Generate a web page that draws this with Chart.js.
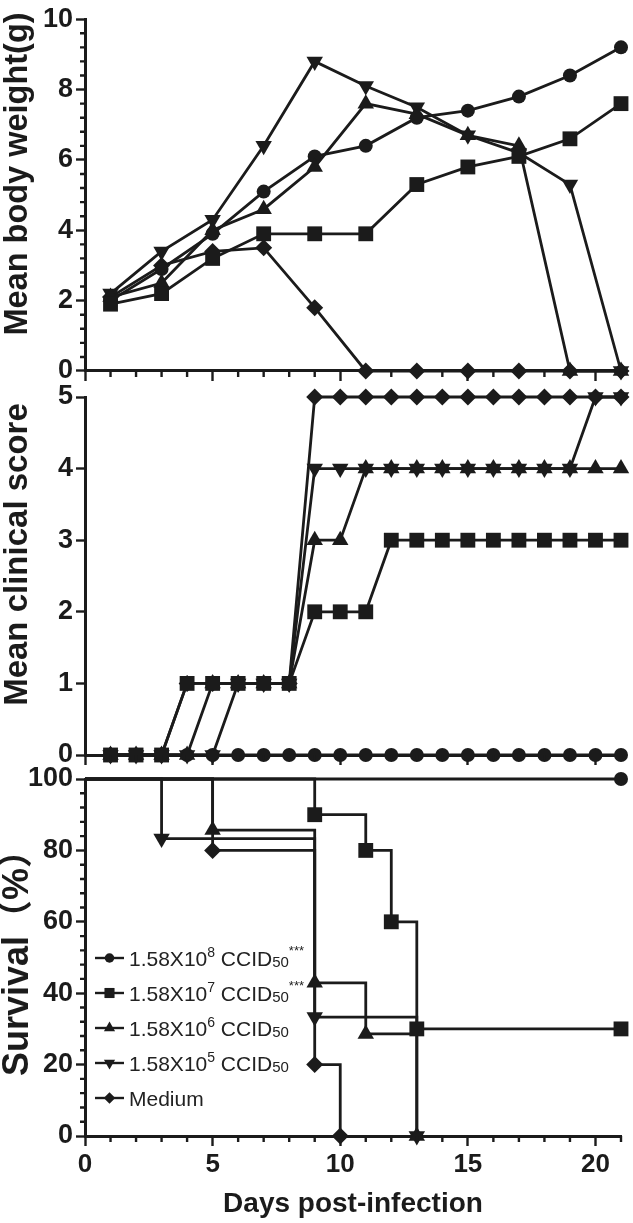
<!DOCTYPE html>
<html>
<head>
<meta charset="utf-8">
<script src="https://cdn.jsdelivr.net/npm/chart.js@4.4.1/dist/chart.umd.min.js"></script>
<style>
  html, body { margin: 0; padding: 0; background: #fff; }
  #wrap { position: relative; width: 633px; height: 1223px; }
  #wrap canvas { position: absolute; left: 0; top: 0; }
</style>
</head>
<body>
<div id="wrap">
  <canvas id="weightChart" width="633" height="1223"></canvas>
  <canvas id="scoreChart" width="633" height="1223"></canvas>
  <canvas id="survivalChart" width="633" height="1223"></canvas>
</div>
<script>
// --- data ---
const weightDays = [1, 3, 5, 7, 9, 11, 13, 15, 17, 19, 21];
const weightE8 = [2.0, 2.9, 3.9, 5.1, 6.1, 6.4, 7.2, 7.4, 7.8, 8.4, 9.2];
const weightE7 = [1.9, 2.2, 3.2, 3.9, 3.9, 3.9, 5.3, 5.8, 6.1, 6.6, 7.6];
const weightE6 = [2.1, 2.5, 4.0, 4.6, 5.8, 7.6, 7.3, 6.7, 6.4, 0, 0];
const weightE5 = [2.2, 3.4, 4.3, 6.4, 8.8, 8.1, 7.5, 6.7, 6.2, 5.3, 0];
const weightMedium = [2.1, 3.0, 3.4, 3.5, 1.8, 0, 0, 0, 0, 0, 0];

const scoreDays = [1, 2, 3, 4, 5, 6, 7, 8, 9, 10, 11, 12, 13, 14, 15, 16, 17, 18, 19, 20, 21];
const scoreE8 = [0, 0, 0, 0, 0, 0, 0, 0, 0, 0, 0, 0, 0, 0, 0, 0, 0, 0, 0, 0, 0];
const scoreE7 = [0, 0, 0, 1, 1, 1, 1, 1, 2, 2, 2, 3, 3, 3, 3, 3, 3, 3, 3, 3, 3];
const scoreE6 = [0, 0, 0, 0, 1, 1, 1, 1, 3, 3, 4, 4, 4, 4, 4, 4, 4, 4, 4, 4, 4];
const scoreE5 = [0, 0, 0, 0, 0, 1, 1, 1, 4, 4, 4, 4, 4, 4, 4, 4, 4, 4, 4, 5, 5];
const scoreMedium = [0, 0, 0, 1, 1, 1, 1, 1, 5, 5, 5, 5, 5, 5, 5, 5, 5, 5, 5, 5, 5];

const survDaysE8 = [0, 21];
const survE8 = [100, 100];
const survDaysE7 = [0, 9, 11, 12, 13, 21];
const survE7 = [100, 90, 80, 60, 30, 30];
const survDaysE6 = [0, 5, 9, 11, 13];
const survE6 = [100, 85.7, 42.9, 28.6, 0];
const survDaysE5 = [0, 3, 9, 13];
const survE5 = [100, 83.3, 33.3, 0];
const survDaysMedium = [0, 5, 9, 10];
const survMedium = [100, 80, 20, 0];

// legend text pieces: [text, kind]
const legendLabels = [
  [["1.58X10", "n"], ["8", "sup"], [" CCID", "n"], ["50", "sub"], ["***", "star"]],
  [["1.58X10", "n"], ["7", "sup"], [" CCID", "n"], ["50", "sub"], ["***", "star"]],
  [["1.58X10", "n"], ["6", "sup"], [" CCID", "n"], ["50", "sub"]],
  [["1.58X10", "n"], ["5", "sup"], [" CCID", "n"], ["50", "sub"]],
  [["Medium", "n"]],
];

const INK = "#1b1b1b";
const FONT = '"Liberation Sans", Arial, Helvetica, "Noto Sans CJK SC", sans-serif';

const markers = [
  { style: "circle", radius: 7, rotation: 0, order: 3 },
  { style: "rect", radius: 10.5, rotation: 0, order: 0 },
  { style: "triangle", radius: 9.5, rotation: 0, order: 1 },
  { style: "triangle", radius: 9.5, rotation: 180, order: 2 },
  { style: "rectRot", radius: 8.5, rotation: 0, order: 4 },
];

function toPoints(xs, ys) {
  return xs.map((x, i) => ({ x: x, y: ys[i] }));
}

function makeDataset(idx, xs, ys, stepped) {
  const m = markers[idx];
  return {
    data: toPoints(xs, ys),
    borderColor: INK,
    backgroundColor: INK,
    borderWidth: 2.8,
    tension: 0,
    stepped: stepped ? "before" : false,
    // survival curves start at 100% without a symbol
    pointRadius: stepped ? xs.map((x, i) => (i === 0 ? 0 : m.radius)) : m.radius,
    pointStyle: m.style,
    pointRotation: m.rotation,
    pointBackgroundColor: INK,
    pointBorderColor: INK,
    pointBorderWidth: 0,
    order: m.order,
    clip: false,
  };
}

// minor tick marks (Chart.js only draws one tick length)
const minorTicks = {
  id: "minorTicks",
  afterDraw(chart, args, opts) {
    const { ctx } = chart;
    const x = chart.scales.x;
    const y = chart.scales.y;
    ctx.save();
    ctx.strokeStyle = INK;
    ctx.lineWidth = 2.4;
    ctx.beginPath();
    const nx = Math.round((x.max - x.min) / opts.xStep);
    for (let i = 0; i <= nx; i++) {
      const v = x.min + i * opts.xStep;
      if (Math.abs(v / opts.xMajor - Math.round(v / opts.xMajor)) < 1e-6) continue;
      const px = x.getPixelForValue(v);
      ctx.moveTo(px, x.top);
      ctx.lineTo(px, x.top + opts.len);
    }
    if (opts.yStep) {
      const ny = Math.round((y.max - y.min) / opts.yStep);
      for (let i = 0; i <= ny; i++) {
        const v = y.min + i * opts.yStep;
        if (Math.abs(v / opts.yMajor - Math.round(v / opts.yMajor)) < 1e-6) continue;
        const py = y.getPixelForValue(v);
        ctx.moveTo(y.right, py);
        ctx.lineTo(y.right - opts.len + 1, py);
      }
    }
    ctx.stroke();
    ctx.restore();
  },
};

// rotated y title, centred on a value of the axis rather than the whole axis
const sideTitle = {
  id: "sideTitle",
  afterDraw(chart, args, opts) {
    const ctx = chart.ctx;
    const y = chart.scales.y;
    ctx.save();
    ctx.translate(opts.x, y.getPixelForValue(opts.at));
    ctx.rotate(-Math.PI / 2);
    ctx.font = "bold " + opts.size + "px " + FONT;
    ctx.fillStyle = INK;
    ctx.textAlign = "center";
    ctx.textBaseline = "alphabetic";
    ctx.fillText(opts.text, 0, 0);
    ctx.restore();
  },
};

const doseLegend = {
  id: "doseLegend",
  afterDatasetsDraw(chart, args, opts) {
    if (!opts.show) return;
    const ctx = chart.ctx;
    const fonts = {
      n: { size: 21, dy: 0 },
      sup: { size: 14, dy: -9 },
      sub: { size: 15, dy: 1 },
      star: { size: 13, dy: -11 },
    };
    ctx.save();
    legendLabels.forEach((parts, i) => {
      const y = opts.top + i * opts.gap;
      const m = markers[i];
      ctx.strokeStyle = INK;
      ctx.lineWidth = 2.4;
      ctx.beginPath();
      ctx.moveTo(opts.left, y);
      ctx.lineTo(opts.left + 29, y);
      ctx.stroke();
      ctx.fillStyle = INK;
      Chart.helpers.drawPoint(ctx, {
        pointStyle: m.style,
        radius: m.radius * 0.68,
        rotation: m.rotation,
        borderWidth: 0,
      }, opts.left + 14.5, y);
      let x = opts.left + 34;
      ctx.textBaseline = "alphabetic";
      ctx.textAlign = "left";
      parts.forEach(([text, kind]) => {
        const f = fonts[kind];
        ctx.font = f.size + "px " + FONT;
        ctx.fillStyle = "#222";
        ctx.fillText(text, x, y + 7.5 + f.dy);
        x += ctx.measureText(text).width;
      });
    });
    ctx.restore();
  },
};

function panelOptions(cfg) {
  return {
    responsive: false,
    animation: false,
    events: [],
    layout: {
      autoPadding: false,
      padding: { left: 0, right: 12, top: cfg.top, bottom: 0 },
    },
    plugins: {
      legend: { display: false },
      tooltip: { enabled: false },
      minorTicks: cfg.minor,
      sideTitle: cfg.title,
      doseLegend: { show: !!cfg.legend, left: 95, top: 958, gap: 35 },
    },
    scales: {
      x: {
        type: "linear",
        min: 0,
        max: 21,
        afterFit(s) { s.height = cfg.xHeight; },
        grid: { drawOnChartArea: false, drawTicks: true, tickLength: 10, tickWidth: 2.4, tickColor: INK },
        border: { display: true, width: 3, color: INK },
        ticks: {
          stepSize: 5,
          includeBounds: false,
          display: !!cfg.xLabels,
          color: INK,
          padding: 3,
          font: { family: FONT, size: 26, weight: "bold" },
        },
        title: {
          display: !!cfg.xLabels,
          text: "Days post-infection",
          color: INK,
          padding: { top: 0, bottom: 2 },
          font: { family: FONT, size: 28, weight: "bold" },
        },
      },
      y: {
        min: cfg.yMin,
        max: cfg.yMax,
        afterFit(s) { s.width = 85; },
        grid: { drawOnChartArea: false, drawTicks: true, tickLength: 9, tickWidth: 2.4, tickColor: INK },
        border: { display: true, width: 3, color: INK },
        ticks: {
          stepSize: cfg.yStep,
          color: INK,
          padding: 3,
          font: { family: FONT, size: 27, weight: "bold" },
        },
        title: { display: false },
      },
    },
  };
}

new Chart(document.getElementById("weightChart"), {
  type: "line",
  data: {
    datasets: [
      makeDataset(0, weightDays, weightE8),
      makeDataset(1, weightDays, weightE7),
      makeDataset(2, weightDays, weightE6),
      makeDataset(3, weightDays, weightE5),
      makeDataset(4, weightDays, weightMedium),
    ],
  },
  options: panelOptions({
    top: 14, xHeight: 1223 - 371, yMin: 0, yMax: 10, yStep: 2,
    title: { text: "Mean body weight(g)", at: 5.6, x: 27, size: 32.5 },
    minor: { xStep: 1, xMajor: 5, yStep: 0.4, yMajor: 2, len: 6 },
  }),
  plugins: [minorTicks, sideTitle, doseLegend],
});

new Chart(document.getElementById("scoreChart"), {
  type: "line",
  data: {
    datasets: [
      makeDataset(0, scoreDays, scoreE8),
      makeDataset(1, scoreDays, scoreE7),
      makeDataset(2, scoreDays, scoreE6),
      makeDataset(3, scoreDays, scoreE5),
      makeDataset(4, scoreDays, scoreMedium),
    ],
  },
  options: panelOptions({
    top: 397, xHeight: 1223 - 755, yMin: 0, yMax: 5, yStep: 1,
    title: { text: "Mean clinical score", at: 2.8, x: 27, size: 33 },
    minor: { xStep: 1, xMajor: 5, yStep: 0, yMajor: 1, len: 6 },
  }),
  plugins: [minorTicks, sideTitle, doseLegend],
});

new Chart(document.getElementById("survivalChart"), {
  type: "line",
  data: {
    datasets: [
      makeDataset(0, survDaysE8, survE8, true),
      makeDataset(1, survDaysE7, survE7, true),
      makeDataset(2, survDaysE6, survE6, true),
      makeDataset(3, survDaysE5, survE5, true),
      makeDataset(4, survDaysMedium, survMedium, true),
    ],
  },
  options: panelOptions({
    top: 779, xHeight: 1223 - 1136, yMin: 0, yMax: 100, yStep: 20,
    title: { text: "Survival（%）", at: 51, x: 28, size: 36 },
    xLabels: true, legend: true,
    minor: { xStep: 1, xMajor: 5, yStep: 4, yMajor: 20, len: 6 },
  }),
  plugins: [minorTicks, sideTitle, doseLegend],
});
</script>
</body>
</html>
